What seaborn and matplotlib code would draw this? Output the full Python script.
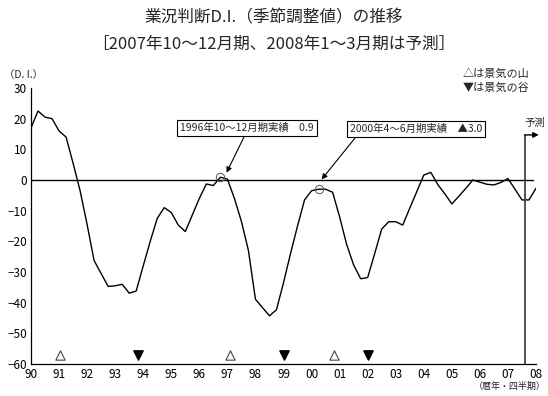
import seaborn as sns
import matplotlib.pyplot as plt
import pandas as pd
import numpy as np

# quarterly D.I. (1990 Q1 - 2008 Q1), last two are forecasts
di = [17, 22.5, 20.5, 20,
      16, 14, 5.5, -3.5,
      -14.5, -26.3, -30.5, -34.7,
      -34.5, -34, -36.9, -36.2,
      -28, -20, -12.5, -9,
      -10.6, -14.7, -16.8, -11.4,
      -6, -1.3, -1.8, 0.9,
      0.3, -6, -13.5, -23,
      -38.9, -41.6, -44.3, -42.3,
      -33.5, -24, -15, -6.5,
      -3.5, -3.0, -3.0, -4.0,
      -12, -21, -27.7, -32.2,
      -31.8, -24, -16, -13.6,
      -13.6, -14.7, -9.2, -3.8,
      1.6, 2.5, -1.5, -4.5,
      -7.8, -5.3, -2.7, 0,
      -0.7, -1.4, -1.6, -0.8,
      0.5, -3, -6.5, -6.5,
      -2.7]
year_labels = ["90", "91", "92", "93", "94", "95", "96", "97", "98", "99",
               "00", "01", "02", "03", "04", "05", "06", "07", "08"]
peaks = [1991.05, 1997.1, 2000.8]     # 景気の山
troughs = [1993.8, 1999.0, 2002.0]    # 景気の谷
notes = ["1996年10～12月期実績　0.9", "2000年4～6月期実績　▲3.0"]
note_pts = [(1996.75, 0.9), (2000.25, -3.0)]

df = pd.DataFrame({"t": 1990 + np.arange(len(di)) / 4, "di": di})

sns.set_style("white")
plt.rcParams['font.family'] = ['Noto Sans CJK JP', 'DejaVu Sans']

fig = plt.figure(figsize=(5.48, 3.96), dpi=100)
ax = fig.add_axes([31 / 548, 1 - 364 / 396, 505 / 548, 276 / 396])

sns.lineplot(data=df, x="t", y="di", color="black", linewidth=1.0, ax=ax)
ax.plot([1990, 2007.9], [0, 0], color="black", linewidth=1.0)

# peaks / troughs
ax.scatter(peaks, [-57] * 3, marker="^", s=45, facecolors="white",
           edgecolors="#444444", linewidths=0.8, zorder=3, clip_on=False)
ax.scatter(troughs, [-57] * 3, marker="v", s=45, color="black", zorder=3,
           clip_on=False)

# annotations
ax.plot([p[0] for p in note_pts], [p[1] for p in note_pts], "o", ms=6,
        mfc="none", mec="#555555", mew=0.7)
box = dict(boxstyle="square,pad=0.3", fc="white", ec="black", lw=0.8)
ax.text(1997.7, 16.9, notes[0], fontsize=7.5, ha="center", va="center", bbox=box)
ax.text(2003.72, 16.6, notes[1], fontsize=7.5, ha="center", va="center", bbox=box)
ax.annotate("", xy=(1996.97, 2.4), xytext=(1997.59, 14.0),
            arrowprops=dict(arrowstyle="-|>", color="black", lw=0.8,
                            mutation_scale=8, shrinkA=0, shrinkB=0))
ax.annotate("", xy=(2000.36, 0.2), xytext=(2001.55, 13.7),
            arrowprops=dict(arrowstyle="-|>", color="black", lw=0.8,
                            mutation_scale=8, shrinkA=0, shrinkB=0))

# forecast marker
ax.plot([2007.625, 2007.625], [-60, 14.7], color="#444444", linewidth=1.3)
ax.annotate("", xy=(2008.1, 14.7), xytext=(2007.6, 14.7),
            arrowprops=dict(arrowstyle="-|>", color="black", lw=1.0,
                            mutation_scale=8, shrinkA=0, shrinkB=0),
            annotation_clip=False)
ax.text(2007.95, 18.5, "予測", fontsize=7.5, ha="center", va="center")

ax.set_xlim(1990, 2008)
ax.set_ylim(-60, 30)
ax.set_xticks(np.arange(1990, 2009))
ax.set_xticklabels(year_labels)
ax.set_xticks(np.arange(1990, 2008.01, 0.25), minor=True)
ax.set_yticks(np.arange(-60, 31, 10))
ax.tick_params(axis="both", direction="in", length=4, width=0.8,
               labelsize=8.5, pad=3, colors="black")
ax.tick_params(axis="x", which="minor", direction="in", length=4, width=0.8)
ax.set_xlabel("")
ax.set_ylabel("")
for s in ["top", "right"]:
    ax.spines[s].set_visible(False)
for s in ["left", "bottom"]:
    ax.spines[s].set_color("black")
    ax.spines[s].set_linewidth(0.9)

fig.text(0.5, 1 - 18 / 396, "業況判断D.I.（季節調整値）の推移", fontsize=12,
         ha="center", va="center")
fig.text(0.5, 1 - 44 / 396, "［2007年10～12月期、2008年1～3月期は予測］",
         fontsize=12, ha="center", va="center")
fig.text(4 / 548, 1 - 75 / 396, "（D. I.）", fontsize=7.5, ha="left", va="center")
fig.text(463 / 548, 1 - 74 / 396, "△は景気の山", fontsize=8, ha="left", va="center")
fig.text(463 / 548, 1 - 88 / 396, "▼は景気の谷", fontsize=8, ha="left", va="center")
fig.text(546 / 548, 1 - 386 / 396, "（暦年・四半期）", fontsize=6.5, ha="right",
         va="center")

fig.savefig("out.png", dpi=100)
